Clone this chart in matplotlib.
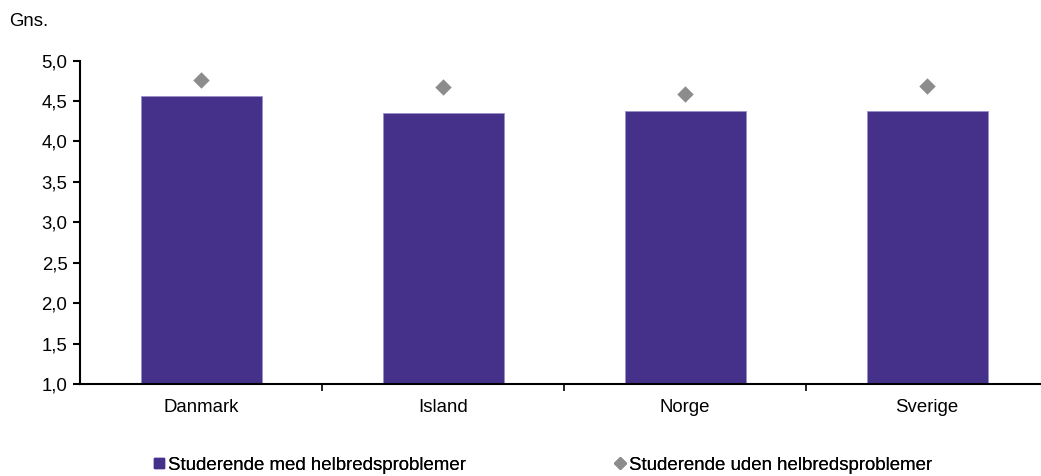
import numpy as np
import matplotlib.pyplot as plt
from matplotlib.lines import Line2D

plt.rcParams['font.family'] = ['Liberation Sans', 'DejaVu Sans']

# data
countries = ["Danmark", "Island", "Norge", "Sverige"]
med_problemer = [4.56, 4.35, 4.37, 4.38]
uden_problemer = [4.76, 4.67, 4.58, 4.68]
y_ticks = [1.0, 1.5, 2.0, 2.5, 3.0, 3.5, 4.0, 4.5, 5.0]

bar_color = "#46318A"
dot_color = "#8C8C8C"
fs = 13.4

fig = plt.figure(figsize=(10.41, 4.76), dpi=100)
ax = fig.add_axes([80 / 1041, 1 - 384 / 476, 968 / 1041, 323.5 / 476])

x = np.arange(len(countries))
ax.bar(x, [v - 1.0 for v in med_problemer], bottom=1.0, width=0.5,
       color=bar_color, edgecolor="#9A8FC8", linewidth=0.6, zorder=2)
ax.scatter(x, uden_problemer, marker="D", s=70, color=dot_color, zorder=3,
           linewidths=0)

ax.set_xlim(-0.5, len(countries) - 0.5)
ax.set_ylim(1.0, 5.0)
ax.set_yticks(y_ticks)
ax.set_yticklabels([f"{v:.1f}".replace(".", ",") for v in y_ticks], fontsize=fs)

# category labels centered, ticks at boundaries
ax.set_xticks(np.arange(len(countries) - 1) + 0.5)
ax.set_xticklabels([])
ax.set_xticks(x, minor=True)
ax.set_xticklabels(countries, minor=True, fontsize=fs)
ax.tick_params(axis="x", which="minor", length=0, pad=11)
ax.tick_params(axis="x", which="major", direction="out", length=5, width=1.2)
ax.tick_params(axis="y", direction="out", length=5, width=1.5, pad=4)

for s in ["top", "right"]:
    ax.spines[s].set_visible(False)
ax.spines["left"].set_linewidth(1.5)
ax.spines["bottom"].set_linewidth(1.5)

fig.text(9 / 1041, 1 - 22 / 476, "Gns.", fontsize=fs, ha="left", va="center")

h1 = Line2D([], [], marker="s", linestyle="none", markersize=7, color=bar_color)
h2 = Line2D([], [], marker="D", linestyle="none", markersize=6, color=dot_color)
for h, lab, x0 in [(h1, "Studerende med helbredsproblemer", 153),
                   (h2, "Studerende uden helbredsproblemer", 614)]:
    leg = fig.legend([h], [lab], loc="center left",
                     bbox_to_anchor=(x0 / 1041, 1 - 465 / 476),
                     frameon=False, fontsize=fs, borderpad=0, borderaxespad=0,
                     handlelength=0.6, handletextpad=0.2)
    fig.add_artist(leg)

fig.savefig("out.png", dpi=100)
